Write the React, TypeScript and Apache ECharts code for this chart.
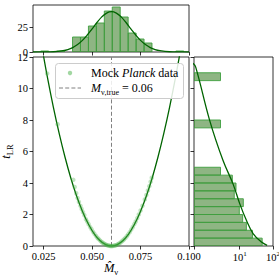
import React, { useEffect, useRef } from 'react';
import * as echarts from 'echarts';

// ---------- data ----------
const massTickValues = [0.025, 0.05, 0.075, 0.1];
const countTickValues = [0, 25];

const massLimits = [0.0195, 0.1];
const tLimits = [0, 12];
const topCountMax = 47;
const rightCountLimits = [1, 53.5];

const trueMass = 0.06;

// mock Planck data points (M_nu hat, t_LR)
const scatterMass = [
  0.0268, 0.0322, 0.0403, 0.041, 0.0418, 0.0425, 0.0432, 0.044, 0.0446, 0.0453, 0.046, 0.0468,
  0.0475, 0.0482, 0.049, 0.0497, 0.0505, 0.0512, 0.052, 0.0527, 0.0533, 0.054, 0.0547, 0.0553,
  0.056, 0.0566, 0.0572, 0.0578, 0.0584, 0.059, 0.0595, 0.06, 0.0605, 0.0611, 0.0617, 0.0623,
  0.063, 0.0636, 0.0642, 0.065, 0.0657, 0.0664, 0.0671, 0.0679, 0.0686, 0.0694, 0.0702, 0.071,
  0.0718, 0.0725, 0.0733, 0.0741, 0.075, 0.076, 0.0772, 0.078, 0.0788, 0.0795, 0.0802, 0.0808,
];
const scatterT = [
  10.95, 7.73, 4.2, 3.75, 3.35, 3.05, 2.8, 2.55, 2.35, 2.15, 1.95, 1.7,
  1.55, 1.38, 1.2, 1.06, 0.9, 0.77, 0.64, 0.53, 0.45, 0.36, 0.28, 0.22,
  0.16, 0.12, 0.08, 0.05, 0.03, 0.01, 0.003, 0.0, 0.003, 0.012, 0.03, 0.05,
  0.09, 0.13, 0.18, 0.25, 0.33, 0.41, 0.5, 0.62, 0.74, 0.88, 1.04, 1.21,
  1.39, 1.56, 1.77, 2.0, 2.25, 2.56, 2.96, 3.24, 3.53, 3.8, 4.08, 4.33,
];

// fitted t_LR curve
const curveMass = [
  0.024, 0.027, 0.03, 0.033, 0.036, 0.039, 0.042, 0.045, 0.048, 0.051, 0.054, 0.057, 0.06,
  0.063, 0.066, 0.069, 0.072, 0.075, 0.078, 0.081, 0.084, 0.087, 0.09, 0.093, 0.096,
];
const curveT = [
  12.7, 10.67, 8.82, 7.15, 5.65, 4.32, 3.18, 2.21, 1.41, 0.79, 0.35, 0.09, 0,
  0.09, 0.35, 0.79, 1.41, 2.21, 3.18, 4.32, 5.65, 7.15, 8.82, 10.67, 12.7,
];

// top histogram of M_nu hat
const topBinStarts = [0.0235, 0.0317, 0.0399, 0.044, 0.0481, 0.0522, 0.0563, 0.0604, 0.0645, 0.0686, 0.0727, 0.0768, 0.0932];
const topBinWidth = 0.0041;
const topCounts = [1, 1, 15, 15, 26, 29, 41, 45, 35, 19, 13, 9, 1];

const gaussMass = [
  0.0195, 0.025, 0.03, 0.035, 0.0375, 0.04, 0.0425, 0.045, 0.0475, 0.05, 0.0525, 0.055, 0.0575, 0.06,
  0.0625, 0.065, 0.0675, 0.07, 0.0725, 0.075, 0.0775, 0.08, 0.0825, 0.085, 0.09, 0.095, 0.1,
];
const gaussCounts = [
  0.01, 0.05, 0.27, 1.3, 2.4, 4.4, 7.4, 11.6, 17.0, 23.2, 29.5, 35.1, 38.9, 40.3,
  38.9, 35.1, 29.5, 23.2, 17.0, 11.6, 7.4, 4.4, 2.4, 1.3, 0.27, 0.05, 0.01,
];

// right histogram of t_LR (log counts)
const rightBinStarts = [0, 0.5, 1, 1.5, 2, 2.5, 3, 3.5, 4, 4.5, 7.5, 10.5];
const rightBinWidth = 0.5;
const rightCounts = [31, 19, 14, 11.6, 9.8, 12, 7.6, 8.3, 6.9, 3.8, 3.8, 3.8];

const rightCurveCounts = [0.95, 1.09, 2.2, 4.3, 7.1, 10, 14, 19.6, 29.9, 39.8];
const rightCurveT = [11.6, 11.36, 7.98, 5.44, 3.96, 2.69, 1.63, 0.79, 0.25, 0.04];

// ---------- styles ----------
const FONT = '"Liberation Serif", "DejaVu Serif", serif';
const barFill = 'rgba(50,120,30,0.55)';
const barEdge = '#3f9f3f';
const curveColor = '#006400';
const pointColor = 'rgba(70,175,70,0.42)';

const nameRich = {
  i: { fontFamily: FONT, fontStyle: 'italic', fontSize: 12.5, lineHeight: 16, color: '#000' },
  s: { fontFamily: FONT, fontSize: 8.5, lineHeight: 8, verticalAlign: 'bottom', color: '#000' },
};

const tickStyle = { show: true, length: 3.5, lineStyle: { color: '#000', width: 0.8 } };
const labelBase = { fontFamily: FONT, fontSize: 10.5, color: '#000' };
const gridBase = { show: true, borderColor: '#000', borderWidth: 0.8, backgroundColor: 'transparent', containLabel: false, outerBoundsMode: 'none' };

export default function App() {
  const ref = useRef<HTMLDivElement>(null);

  useEffect(() => {
    if (!ref.current) return;
    const chart = echarts.init(ref.current, undefined, { renderer: 'svg' });

    const histRender = (vertical: boolean) => (params: any, api: any) => {
      const a = api.value(0);
      const b = api.value(1);
      const c = api.value(2);
      let p0, p1;
      if (vertical) {
        p0 = api.coord([a, 0]);
        p1 = api.coord([b, c]);
      } else {
        p0 = api.coord([rightCountLimits[0], a]);
        p1 = api.coord([c, b]);
      }
      return {
        type: 'rect',
        shape: { x: p0[0], y: p1[1], width: p1[0] - p0[0], height: p0[1] - p1[1] },
        style: { fill: barFill, stroke: barEdge, lineWidth: 0.9 },
      };
    };

    const option: any = {
      animation: false,
      grid: [
        { ...gridBase, left: 33, top: 57, width: 156, height: 189 },
        { ...gridBase, left: 33, top: 5, width: 156, height: 47 },
        { ...gridBase, left: 194, top: 57, width: 79, height: 189 },
      ],
      xAxis: [
        {
          type: 'value', gridIndex: 0, min: massLimits[0], max: massLimits[1],
          splitLine: { show: false }, axisLine: { show: false },
          axisTick: { ...tickStyle, customValues: massTickValues },
          axisLabel: { ...labelBase, margin: 5, customValues: massTickValues, formatter: (v: number) => v.toFixed(3) },
          name: '{i|M\u0302}{s|\u03bd}', nameLocation: 'middle', nameGap: 14, nameMoveOverlap: false,
          nameTextStyle: { rich: nameRich },
        },
        {
          type: 'value', gridIndex: 1, min: massLimits[0], max: massLimits[1],
          splitLine: { show: false }, axisLine: { show: false },
          axisTick: { ...tickStyle, customValues: massTickValues },
          axisLabel: { show: false },
        },
        {
          type: 'log', logBase: 10, gridIndex: 2, min: rightCountLimits[0], max: rightCountLimits[1],
          splitLine: { show: false }, axisLine: { show: false }, minorTick: { show: false },
          axisTick: { ...tickStyle },
          axisLabel: {
            ...labelBase, margin: 4, lineHeight: 14,
            formatter: (v: number) => {
              const e = Math.round(Math.log10(v));
              return e >= 1 ? `10{sup|${e}}` : '';
            },
            rich: { sup: { fontFamily: FONT, fontSize: 7, lineHeight: 8, verticalAlign: 'top', color: '#000' } },
          },
        },
      ],
      yAxis: [
        {
          type: 'value', gridIndex: 0, min: tLimits[0], max: tLimits[1], interval: 2,
          splitLine: { show: false }, axisLine: { show: false },
          axisTick: { ...tickStyle },
          axisLabel: { ...labelBase, margin: 5 },
          name: '{i|t}{s|LR}', nameLocation: 'middle', nameGap: 19, nameRotate: 90, nameMoveOverlap: false,
          nameTextStyle: { rich: nameRich },
        },
        {
          type: 'value', gridIndex: 1, min: 0, max: topCountMax,
          splitLine: { show: false }, axisLine: { show: false },
          axisTick: { ...tickStyle, customValues: countTickValues },
          axisLabel: { ...labelBase, margin: 5, customValues: countTickValues },
        },
        {
          type: 'value', gridIndex: 2, min: tLimits[0], max: tLimits[1], interval: 2,
          splitLine: { show: false }, axisLine: { show: false },
          axisTick: { ...tickStyle },
          axisLabel: { show: false },
        },
      ],
      series: [
        {
          type: 'line', xAxisIndex: 0, yAxisIndex: 0,
          data: [[trueMass, tLimits[0]], [trueMass, tLimits[1]]],
          showSymbol: false, lineStyle: { color: '#808080', width: 1, type: [4, 2.2] }, z: 1,
        },
        {
          type: 'line', xAxisIndex: 0, yAxisIndex: 0,
          data: curveMass.map((m, i) => [m, curveT[i]]),
          showSymbol: false, smooth: 0.4, clip: true,
          lineStyle: { color: curveColor, width: 1.3 }, z: 2,
        },
        {
          type: 'scatter', xAxisIndex: 0, yAxisIndex: 0,
          data: scatterMass.map((m, i) => [m, scatterT[i]]),
          symbolSize: 4.5, itemStyle: { color: pointColor }, z: 3,
        },
        {
          type: 'custom', xAxisIndex: 1, yAxisIndex: 1, clip: true,
          data: topBinStarts.map((s, i) => [s, s + topBinWidth, topCounts[i]]),
          encode: { x: [0, 1], y: 2 },
          renderItem: histRender(true),
        },
        {
          type: 'line', xAxisIndex: 1, yAxisIndex: 1,
          data: gaussMass.map((m, i) => [m, gaussCounts[i]]),
          showSymbol: false, smooth: 0.4, clip: true,
          lineStyle: { color: curveColor, width: 1.3 }, z: 3,
        },
        {
          type: 'custom', xAxisIndex: 2, yAxisIndex: 2, clip: true,
          data: rightBinStarts.map((s, i) => [s, s + rightBinWidth, rightCounts[i]]),
          encode: { x: 2, y: [0, 1] },
          renderItem: histRender(false),
        },
        {
          type: 'line', xAxisIndex: 2, yAxisIndex: 2,
          data: rightCurveCounts.map((c, i) => [c, rightCurveT[i]]),
          showSymbol: false, smooth: 0.4, clip: true,
          lineStyle: { color: curveColor, width: 1.3 }, z: 3,
        },
      ],
      graphic: [
        {
          type: 'rect', z: 100,
          shape: { x: 55.5, y: 63.5, width: 128, height: 35, r: 3 },
          style: { fill: 'rgba(255,255,255,0.85)', stroke: '#cccccc', lineWidth: 1 },
        },
        {
          type: 'circle', z: 101,
          shape: { cx: 70, cy: 73, r: 2.2 },
          style: { fill: 'rgba(70,175,70,0.5)' },
        },
        {
          type: 'text', z: 101, x: 91, y: 73,
          style: {
            text: 'Mock {i|Planck} data', fill: '#000', fontFamily: FONT, fontSize: 12,
            verticalAlign: 'middle', align: 'left',
            rich: { i: { fontFamily: FONT, fontSize: 12, fontStyle: 'italic', fill: '#000' } },
          },
        },
        {
          type: 'line', z: 101,
          shape: { x1: 59, y1: 88, x2: 81, y2: 88 },
          style: { stroke: '#808080', lineWidth: 1, lineDash: [4, 2.2] },
        },
        {
          type: 'text', z: 101, x: 91, y: 88,
          style: {
            text: '{i|M}{s|\u03bd,true}{n| = 0.06}', fill: '#000', fontFamily: FONT, fontSize: 12,
            verticalAlign: 'middle', align: 'left',
            rich: {
              i: { fontFamily: FONT, fontSize: 12, fontStyle: 'italic', lineHeight: 16, fill: '#000' },
              s: { fontFamily: FONT, fontSize: 8, lineHeight: 8, verticalAlign: 'bottom', fill: '#000' },
              n: { fontFamily: FONT, fontSize: 12, lineHeight: 16, fill: '#000' },
            },
          },
        },
      ],
    };

    chart.setOption(option);
    return () => chart.dispose();
  }, []);

  return (
    <div
      ref={ref}
      style={{ position: 'fixed', left: 0, top: 0, width: 279, height: 280, background: '#fff' }}
    />
  );
}
